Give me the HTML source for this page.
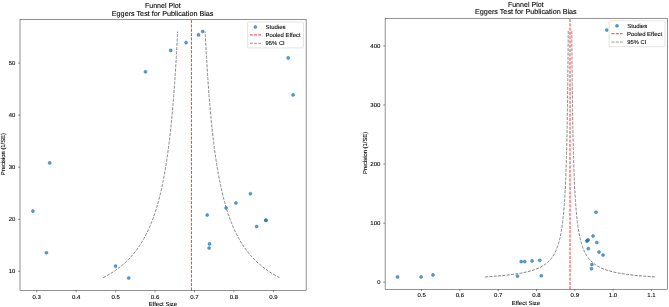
<!DOCTYPE html>
<html><head><meta charset="utf-8"><title>Funnel Plots</title>
<style>
html,body{margin:0;padding:0;background:#fff;width:669px;height:307px;overflow:hidden}
svg{display:block}
text{font-family:"Liberation Sans",sans-serif;fill:#000;stroke:#000;stroke-width:0.1px}
.t{will-change:transform}
text{text-rendering:geometricPrecision}
</style></head><body>
<svg width="669" height="307" viewBox="0 0 669 307">
<rect width="669" height="307" fill="#fff"/>
<circle cx="32.9" cy="211.1" r="1.55" fill="#1f77b4" fill-opacity="0.75" stroke="#1f77b4" stroke-opacity="0.75" stroke-width="0.54"/>
<circle cx="49.7" cy="162.9" r="1.55" fill="#1f77b4" fill-opacity="0.75" stroke="#1f77b4" stroke-opacity="0.75" stroke-width="0.54"/>
<circle cx="46.4" cy="252.7" r="1.55" fill="#1f77b4" fill-opacity="0.75" stroke="#1f77b4" stroke-opacity="0.75" stroke-width="0.54"/>
<circle cx="115.6" cy="266.1" r="1.55" fill="#1f77b4" fill-opacity="0.75" stroke="#1f77b4" stroke-opacity="0.75" stroke-width="0.54"/>
<circle cx="128.7" cy="278.0" r="1.55" fill="#1f77b4" fill-opacity="0.75" stroke="#1f77b4" stroke-opacity="0.75" stroke-width="0.54"/>
<circle cx="145.5" cy="71.8" r="1.55" fill="#1f77b4" fill-opacity="0.75" stroke="#1f77b4" stroke-opacity="0.75" stroke-width="0.54"/>
<circle cx="170.75" cy="50.4" r="1.55" fill="#1f77b4" fill-opacity="0.75" stroke="#1f77b4" stroke-opacity="0.75" stroke-width="0.54"/>
<circle cx="186.1" cy="42.6" r="1.55" fill="#1f77b4" fill-opacity="0.75" stroke="#1f77b4" stroke-opacity="0.75" stroke-width="0.54"/>
<circle cx="198.5" cy="34.9" r="1.55" fill="#1f77b4" fill-opacity="0.75" stroke="#1f77b4" stroke-opacity="0.75" stroke-width="0.54"/>
<circle cx="202.7" cy="31.5" r="1.55" fill="#1f77b4" fill-opacity="0.75" stroke="#1f77b4" stroke-opacity="0.75" stroke-width="0.54"/>
<circle cx="207.2" cy="215.0" r="1.55" fill="#1f77b4" fill-opacity="0.75" stroke="#1f77b4" stroke-opacity="0.75" stroke-width="0.54"/>
<circle cx="209.5" cy="243.9" r="1.55" fill="#1f77b4" fill-opacity="0.75" stroke="#1f77b4" stroke-opacity="0.75" stroke-width="0.54"/>
<circle cx="209.1" cy="248.0" r="1.55" fill="#1f77b4" fill-opacity="0.75" stroke="#1f77b4" stroke-opacity="0.75" stroke-width="0.54"/>
<circle cx="226.1" cy="207.9" r="1.55" fill="#1f77b4" fill-opacity="0.75" stroke="#1f77b4" stroke-opacity="0.75" stroke-width="0.54"/>
<circle cx="235.9" cy="203.0" r="1.55" fill="#1f77b4" fill-opacity="0.75" stroke="#1f77b4" stroke-opacity="0.75" stroke-width="0.54"/>
<circle cx="250.4" cy="193.7" r="1.55" fill="#1f77b4" fill-opacity="0.75" stroke="#1f77b4" stroke-opacity="0.75" stroke-width="0.54"/>
<circle cx="256.6" cy="226.5" r="1.55" fill="#1f77b4" fill-opacity="0.75" stroke="#1f77b4" stroke-opacity="0.75" stroke-width="0.54"/>
<circle cx="265.8" cy="220.2" r="1.55" fill="#1f77b4" fill-opacity="0.75" stroke="#1f77b4" stroke-opacity="0.75" stroke-width="0.54"/>
<circle cx="265.9" cy="220.3" r="1.55" fill="#1f77b4" fill-opacity="0.75" stroke="#1f77b4" stroke-opacity="0.75" stroke-width="0.54"/>
<circle cx="288.2" cy="57.9" r="1.55" fill="#1f77b4" fill-opacity="0.75" stroke="#1f77b4" stroke-opacity="0.75" stroke-width="0.54"/>
<circle cx="293.1" cy="94.9" r="1.55" fill="#1f77b4" fill-opacity="0.75" stroke="#1f77b4" stroke-opacity="0.75" stroke-width="0.54"/>
<line x1="191.4" y1="290.4" x2="191.4" y2="19.4" stroke="#ff0000" stroke-width="0.81" stroke-dasharray="3.01 1.30"/>
<polyline points="103.23,277.70 105.55,276.47 107.74,275.24 109.83,274.01 111.81,272.78 113.70,271.55 115.51,270.32 117.23,269.09 118.87,267.86 120.44,266.63 121.95,265.40 123.39,264.17 124.78,262.94 126.11,261.71 127.39,260.48 128.61,259.25 129.80,258.02 130.94,256.79 132.03,255.56 133.09,254.33 134.11,253.10 135.10,251.87 136.05,250.64 136.97,249.41 137.86,248.18 138.72,246.95 139.56,245.72 140.37,244.49 141.15,243.26 141.91,242.03 142.65,240.80 143.36,239.57 144.06,238.34 144.73,237.11 145.39,235.88 146.03,234.65 146.65,233.41 147.25,232.18 147.84,230.95 148.41,229.72 148.97,228.49 149.51,227.26 150.04,226.03 150.56,224.80 151.06,223.57 151.56,222.34 152.03,221.11 152.50,219.88 152.96,218.65 153.41,217.42 153.84,216.19 154.27,214.96 154.69,213.73 155.09,212.50 155.49,211.27 155.88,210.04 156.26,208.81 156.64,207.58 157.00,206.35 157.36,205.12 157.71,203.89 158.05,202.66 158.39,201.43 158.72,200.20 159.04,198.97 159.36,197.74 159.67,196.51 159.98,195.28 160.27,194.05 160.57,192.82 160.86,191.59 161.14,190.36 161.42,189.13 161.69,187.90 161.96,186.67 162.22,185.44 162.48,184.21 162.73,182.98 162.98,181.75 163.22,180.52 163.46,179.29 163.70,178.06 163.93,176.83 164.16,175.60 164.39,174.37 164.61,173.14 164.83,171.90 165.04,170.67 165.25,169.44 165.46,168.21 165.66,166.98 165.86,165.75 166.06,164.52 166.26,163.29 166.45,162.06 166.64,160.83 166.82,159.60 167.01,158.37 167.19,157.14 167.36,155.91 167.54,154.68 167.71,153.45 167.88,152.22 168.05,150.99 168.22,149.76 168.38,148.53 168.54,147.30 168.70,146.07 168.85,144.84 169.01,143.61 169.16,142.38 169.31,141.15 169.46,139.92 169.61,138.69 169.75,137.46 169.89,136.23 170.03,135.00 170.17,133.77 170.31,132.54 170.44,131.31 170.58,130.08 170.71,128.85 170.84,127.62 170.97,126.39 171.09,125.16 171.22,123.93 171.34,122.70 171.46,121.47 171.59,120.24 171.70,119.01 171.82,117.78 171.94,116.55 172.05,115.32 172.17,114.09 172.28,112.86 172.39,111.62 172.50,110.39 172.61,109.16 172.72,107.93 172.82,106.70 172.93,105.47 173.03,104.24 173.13,103.01 173.24,101.78 173.34,100.55 173.44,99.32 173.53,98.09 173.63,96.86 173.73,95.63 173.82,94.40 173.92,93.17 174.01,91.94 174.10,90.71 174.19,89.48 174.28,88.25 174.37,87.02 174.46,85.79 174.55,84.56 174.63,83.33 174.72,82.10 174.80,80.87 174.89,79.64 174.97,78.41 175.05,77.18 175.13,75.95 175.21,74.72 175.29,73.49 175.37,72.26 175.45,71.03 175.53,69.80 175.60,68.57 175.68,67.34 175.75,66.11 175.83,64.88 175.90,63.65 175.98,62.42 176.05,61.19 176.12,59.96 176.19,58.73 176.26,57.50 176.33,56.27 176.40,55.04 176.47,53.81 176.54,52.58 176.60,51.35 176.67,50.11 176.74,48.88 176.80,47.65 176.87,46.42 176.93,45.19 176.99,43.96 177.06,42.73 177.12,41.50 177.18,40.27 177.24,39.04 177.31,37.81 177.37,36.58 177.43,35.35 177.48,34.12 177.54,32.89 177.60,31.66" fill="none" stroke="#747474" stroke-width="0.89" stroke-dasharray="3.01 1.30"/>
<polyline points="279.57,277.70 277.25,276.47 275.06,275.24 272.97,274.01 270.99,272.78 269.10,271.55 267.29,270.32 265.57,269.09 263.93,267.86 262.36,266.63 260.85,265.40 259.41,264.17 258.02,262.94 256.69,261.71 255.41,260.48 254.19,259.25 253.00,258.02 251.86,256.79 250.77,255.56 249.71,254.33 248.69,253.10 247.70,251.87 246.75,250.64 245.83,249.41 244.94,248.18 244.08,246.95 243.24,245.72 242.43,244.49 241.65,243.26 240.89,242.03 240.15,240.80 239.44,239.57 238.74,238.34 238.07,237.11 237.41,235.88 236.77,234.65 236.15,233.41 235.55,232.18 234.96,230.95 234.39,229.72 233.83,228.49 233.29,227.26 232.76,226.03 232.24,224.80 231.74,223.57 231.24,222.34 230.77,221.11 230.30,219.88 229.84,218.65 229.39,217.42 228.96,216.19 228.53,214.96 228.11,213.73 227.71,212.50 227.31,211.27 226.92,210.04 226.54,208.81 226.16,207.58 225.80,206.35 225.44,205.12 225.09,203.89 224.75,202.66 224.41,201.43 224.08,200.20 223.76,198.97 223.44,197.74 223.13,196.51 222.82,195.28 222.53,194.05 222.23,192.82 221.94,191.59 221.66,190.36 221.38,189.13 221.11,187.90 220.84,186.67 220.58,185.44 220.32,184.21 220.07,182.98 219.82,181.75 219.58,180.52 219.34,179.29 219.10,178.06 218.87,176.83 218.64,175.60 218.41,174.37 218.19,173.14 217.97,171.90 217.76,170.67 217.55,169.44 217.34,168.21 217.14,166.98 216.94,165.75 216.74,164.52 216.54,163.29 216.35,162.06 216.16,160.83 215.98,159.60 215.79,158.37 215.61,157.14 215.44,155.91 215.26,154.68 215.09,153.45 214.92,152.22 214.75,150.99 214.58,149.76 214.42,148.53 214.26,147.30 214.10,146.07 213.95,144.84 213.79,143.61 213.64,142.38 213.49,141.15 213.34,139.92 213.19,138.69 213.05,137.46 212.91,136.23 212.77,135.00 212.63,133.77 212.49,132.54 212.36,131.31 212.22,130.08 212.09,128.85 211.96,127.62 211.83,126.39 211.71,125.16 211.58,123.93 211.46,122.70 211.34,121.47 211.21,120.24 211.10,119.01 210.98,117.78 210.86,116.55 210.75,115.32 210.63,114.09 210.52,112.86 210.41,111.62 210.30,110.39 210.19,109.16 210.08,107.93 209.98,106.70 209.87,105.47 209.77,104.24 209.67,103.01 209.56,101.78 209.46,100.55 209.36,99.32 209.27,98.09 209.17,96.86 209.07,95.63 208.98,94.40 208.88,93.17 208.79,91.94 208.70,90.71 208.61,89.48 208.52,88.25 208.43,87.02 208.34,85.79 208.25,84.56 208.17,83.33 208.08,82.10 208.00,80.87 207.91,79.64 207.83,78.41 207.75,77.18 207.67,75.95 207.59,74.72 207.51,73.49 207.43,72.26 207.35,71.03 207.27,69.80 207.20,68.57 207.12,67.34 207.05,66.11 206.97,64.88 206.90,63.65 206.82,62.42 206.75,61.19 206.68,59.96 206.61,58.73 206.54,57.50 206.47,56.27 206.40,55.04 206.33,53.81 206.26,52.58 206.20,51.35 206.13,50.11 206.06,48.88 206.00,47.65 205.93,46.42 205.87,45.19 205.81,43.96 205.74,42.73 205.68,41.50 205.62,40.27 205.56,39.04 205.49,37.81 205.43,36.58 205.37,35.35 205.32,34.12 205.26,32.89 205.20,31.66" fill="none" stroke="#747474" stroke-width="0.89" stroke-dasharray="3.01 1.30"/>
<rect x="20.0" y="19.4" width="286.10" height="271.00" fill="none" stroke="#000" stroke-width="0.43"/>
<line x1="36.70" y1="290.4" x2="36.70" y2="292.30" stroke="#000" stroke-width="0.43"/>
<line x1="76.15" y1="290.4" x2="76.15" y2="292.30" stroke="#000" stroke-width="0.43"/>
<line x1="115.60" y1="290.4" x2="115.60" y2="292.30" stroke="#000" stroke-width="0.43"/>
<line x1="155.05" y1="290.4" x2="155.05" y2="292.30" stroke="#000" stroke-width="0.43"/>
<line x1="194.50" y1="290.4" x2="194.50" y2="292.30" stroke="#000" stroke-width="0.43"/>
<line x1="233.95" y1="290.4" x2="233.95" y2="292.30" stroke="#000" stroke-width="0.43"/>
<line x1="273.40" y1="290.4" x2="273.40" y2="292.30" stroke="#000" stroke-width="0.43"/>
<line x1="18.10" y1="271.30" x2="20.0" y2="271.30" stroke="#000" stroke-width="0.43"/>
<line x1="18.10" y1="219.25" x2="20.0" y2="219.25" stroke="#000" stroke-width="0.43"/>
<line x1="18.10" y1="167.20" x2="20.0" y2="167.20" stroke="#000" stroke-width="0.43"/>
<line x1="18.10" y1="115.15" x2="20.0" y2="115.15" stroke="#000" stroke-width="0.43"/>
<line x1="18.10" y1="63.10" x2="20.0" y2="63.10" stroke="#000" stroke-width="0.43"/>
<rect x="247.4" y="22.0" width="56.0" height="25.9" rx="1.1" fill="#fff" fill-opacity="0.8" stroke="#cccccc" stroke-width="0.54"/>
<circle cx="255.40" cy="27.00" r="1.55" fill="#1f77b4" fill-opacity="0.75" stroke="#1f77b4" stroke-opacity="0.75" stroke-width="0.54"/>
<line x1="249.80" y1="34.90" x2="261.00" y2="34.90" stroke="#ff0000" stroke-width="0.81" stroke-dasharray="3.01 1.30"/>
<line x1="249.80" y1="43.30" x2="261.00" y2="43.30" stroke="#808080" stroke-width="0.81" stroke-dasharray="3.01 1.30"/>
<circle cx="397.5" cy="276.9" r="1.55" fill="#1f77b4" fill-opacity="0.75" stroke="#1f77b4" stroke-opacity="0.75" stroke-width="0.54"/>
<circle cx="421.1" cy="276.9" r="1.55" fill="#1f77b4" fill-opacity="0.75" stroke="#1f77b4" stroke-opacity="0.75" stroke-width="0.54"/>
<circle cx="433.0" cy="274.9" r="1.55" fill="#1f77b4" fill-opacity="0.75" stroke="#1f77b4" stroke-opacity="0.75" stroke-width="0.54"/>
<circle cx="517.5" cy="276.1" r="1.55" fill="#1f77b4" fill-opacity="0.75" stroke="#1f77b4" stroke-opacity="0.75" stroke-width="0.54"/>
<circle cx="521.2" cy="261.6" r="1.55" fill="#1f77b4" fill-opacity="0.75" stroke="#1f77b4" stroke-opacity="0.75" stroke-width="0.54"/>
<circle cx="524.7" cy="261.6" r="1.55" fill="#1f77b4" fill-opacity="0.75" stroke="#1f77b4" stroke-opacity="0.75" stroke-width="0.54"/>
<circle cx="532.1" cy="260.9" r="1.55" fill="#1f77b4" fill-opacity="0.75" stroke="#1f77b4" stroke-opacity="0.75" stroke-width="0.54"/>
<circle cx="539.8" cy="260.3" r="1.55" fill="#1f77b4" fill-opacity="0.75" stroke="#1f77b4" stroke-opacity="0.75" stroke-width="0.54"/>
<circle cx="541.3" cy="275.7" r="1.55" fill="#1f77b4" fill-opacity="0.75" stroke="#1f77b4" stroke-opacity="0.75" stroke-width="0.54"/>
<circle cx="596.0" cy="212.3" r="1.55" fill="#1f77b4" fill-opacity="0.75" stroke="#1f77b4" stroke-opacity="0.75" stroke-width="0.54"/>
<circle cx="593.1" cy="236.0" r="1.55" fill="#1f77b4" fill-opacity="0.75" stroke="#1f77b4" stroke-opacity="0.75" stroke-width="0.54"/>
<circle cx="586.8" cy="241.1" r="1.55" fill="#1f77b4" fill-opacity="0.75" stroke="#1f77b4" stroke-opacity="0.75" stroke-width="0.54"/>
<circle cx="588.1" cy="239.9" r="1.55" fill="#1f77b4" fill-opacity="0.75" stroke="#1f77b4" stroke-opacity="0.75" stroke-width="0.54"/>
<circle cx="587.4" cy="240.5" r="1.55" fill="#1f77b4" fill-opacity="0.75" stroke="#1f77b4" stroke-opacity="0.75" stroke-width="0.54"/>
<circle cx="596.8" cy="242.5" r="1.55" fill="#1f77b4" fill-opacity="0.75" stroke="#1f77b4" stroke-opacity="0.75" stroke-width="0.54"/>
<circle cx="588.3" cy="248.6" r="1.55" fill="#1f77b4" fill-opacity="0.75" stroke="#1f77b4" stroke-opacity="0.75" stroke-width="0.54"/>
<circle cx="599.0" cy="252.1" r="1.55" fill="#1f77b4" fill-opacity="0.75" stroke="#1f77b4" stroke-opacity="0.75" stroke-width="0.54"/>
<circle cx="603.0" cy="255.0" r="1.55" fill="#1f77b4" fill-opacity="0.75" stroke="#1f77b4" stroke-opacity="0.75" stroke-width="0.54"/>
<circle cx="591.9" cy="264.5" r="1.55" fill="#1f77b4" fill-opacity="0.75" stroke="#1f77b4" stroke-opacity="0.75" stroke-width="0.54"/>
<circle cx="591.5" cy="268.7" r="1.55" fill="#1f77b4" fill-opacity="0.75" stroke="#1f77b4" stroke-opacity="0.75" stroke-width="0.54"/>
<circle cx="606.75" cy="30.05" r="1.55" fill="#1f77b4" fill-opacity="0.75" stroke="#1f77b4" stroke-opacity="0.75" stroke-width="0.54"/>
<line x1="570.0" y1="289.2" x2="570.0" y2="18.2" stroke="#ff0000" stroke-width="0.81" stroke-dasharray="3.01 1.30"/>
<polyline points="485.18,276.97 501.37,275.74 512.37,274.50 520.33,273.27 526.36,272.04 531.09,270.80 534.89,269.57 538.01,268.34 540.63,267.10 542.84,265.87 544.75,264.64 546.41,263.40 547.86,262.17 549.15,260.93 550.29,259.70 551.31,258.47 552.24,257.23 553.07,256.00 553.83,254.77 554.53,253.53 555.17,252.30 555.76,251.07 556.30,249.83 556.80,248.60 557.27,247.36 557.71,246.13 558.11,244.90 558.49,243.66 558.85,242.43 559.18,241.20 559.50,239.96 559.80,238.73 560.08,237.50 560.35,236.26 560.60,235.03 560.84,233.79 561.07,232.56 561.28,231.33 561.49,230.09 561.69,228.86 561.87,227.63 562.05,226.39 562.23,225.16 562.39,223.93 562.55,222.69 562.70,221.46 562.84,220.22 562.98,218.99 563.12,217.76 563.25,216.52 563.37,215.29 563.49,214.06 563.61,212.82 563.72,211.59 563.83,210.36 563.93,209.12 564.03,207.89 564.13,206.65 564.22,205.42 564.32,204.19 564.40,202.95 564.49,201.72 564.57,200.49 564.65,199.25 564.73,198.02 564.81,196.79 564.88,195.55 564.95,194.32 565.02,193.08 565.09,191.85 565.16,190.62 565.22,189.38 565.28,188.15 565.35,186.92 565.41,185.68 565.46,184.45 565.52,183.22 565.58,181.98 565.63,180.75 565.68,179.51 565.73,178.28 565.78,177.05 565.83,175.81 565.88,174.58 565.93,173.35 565.97,172.11 566.02,170.88 566.06,169.65 566.10,168.41 566.14,167.18 566.19,165.94 566.23,164.71 566.26,163.48 566.30,162.24 566.34,161.01 566.38,159.78 566.41,158.54 566.45,157.31 566.48,156.08 566.52,154.84 566.55,153.61 566.58,152.37 566.62,151.14 566.65,149.91 566.68,148.67 566.71,147.44 566.74,146.21 566.77,144.97 566.80,143.74 566.83,142.51 566.85,141.27 566.88,140.04 566.91,138.80 566.93,137.57 566.96,136.34 566.99,135.10 567.01,133.87 567.03,132.64 567.06,131.40 567.08,130.17 567.11,128.94 567.13,127.70 567.15,126.47 567.17,125.23 567.20,124.00 567.22,122.77 567.24,121.53 567.26,120.30 567.28,119.07 567.30,117.83 567.32,116.60 567.34,115.37 567.36,114.13 567.38,112.90 567.40,111.66 567.42,110.43 567.44,109.20 567.45,107.96 567.47,106.73 567.49,105.50 567.51,104.26 567.52,103.03 567.54,101.80 567.56,100.56 567.57,99.33 567.59,98.09 567.61,96.86 567.62,95.63 567.64,94.39 567.65,93.16 567.67,91.93 567.68,90.69 567.70,89.46 567.71,88.23 567.73,86.99 567.74,85.76 567.76,84.53 567.77,83.29 567.78,82.06 567.80,80.82 567.81,79.59 567.82,78.36 567.84,77.12 567.85,75.89 567.86,74.66 567.88,73.42 567.89,72.19 567.90,70.96 567.91,69.72 567.92,68.49 567.94,67.25 567.95,66.02 567.96,64.79 567.97,63.55 567.98,62.32 567.99,61.09 568.01,59.85 568.02,58.62 568.03,57.39 568.04,56.15 568.05,54.92 568.06,53.68 568.07,52.45 568.08,51.22 568.09,49.98 568.10,48.75 568.11,47.52 568.12,46.28 568.13,45.05 568.14,43.82 568.15,42.58 568.16,41.35 568.17,40.11 568.18,38.88 568.19,37.65 568.20,36.41 568.20,35.18 568.21,33.95 568.22,32.71 568.23,31.48 568.24,30.25" fill="none" stroke="#747474" stroke-width="0.89" stroke-dasharray="3.01 1.30"/>
<polyline points="654.82,276.97 638.63,275.74 627.63,274.50 619.67,273.27 613.64,272.04 608.91,270.80 605.11,269.57 601.99,268.34 599.37,267.10 597.16,265.87 595.25,264.64 593.59,263.40 592.14,262.17 590.85,260.93 589.71,259.70 588.69,258.47 587.76,257.23 586.93,256.00 586.17,254.77 585.47,253.53 584.83,252.30 584.24,251.07 583.70,249.83 583.20,248.60 582.73,247.36 582.29,246.13 581.89,244.90 581.51,243.66 581.15,242.43 580.82,241.20 580.50,239.96 580.20,238.73 579.92,237.50 579.65,236.26 579.40,235.03 579.16,233.79 578.93,232.56 578.72,231.33 578.51,230.09 578.31,228.86 578.13,227.63 577.95,226.39 577.77,225.16 577.61,223.93 577.45,222.69 577.30,221.46 577.16,220.22 577.02,218.99 576.88,217.76 576.75,216.52 576.63,215.29 576.51,214.06 576.39,212.82 576.28,211.59 576.17,210.36 576.07,209.12 575.97,207.89 575.87,206.65 575.78,205.42 575.68,204.19 575.60,202.95 575.51,201.72 575.43,200.49 575.35,199.25 575.27,198.02 575.19,196.79 575.12,195.55 575.05,194.32 574.98,193.08 574.91,191.85 574.84,190.62 574.78,189.38 574.72,188.15 574.65,186.92 574.59,185.68 574.54,184.45 574.48,183.22 574.42,181.98 574.37,180.75 574.32,179.51 574.27,178.28 574.22,177.05 574.17,175.81 574.12,174.58 574.07,173.35 574.03,172.11 573.98,170.88 573.94,169.65 573.90,168.41 573.86,167.18 573.81,165.94 573.77,164.71 573.74,163.48 573.70,162.24 573.66,161.01 573.62,159.78 573.59,158.54 573.55,157.31 573.52,156.08 573.48,154.84 573.45,153.61 573.42,152.37 573.38,151.14 573.35,149.91 573.32,148.67 573.29,147.44 573.26,146.21 573.23,144.97 573.20,143.74 573.17,142.51 573.15,141.27 573.12,140.04 573.09,138.80 573.07,137.57 573.04,136.34 573.01,135.10 572.99,133.87 572.97,132.64 572.94,131.40 572.92,130.17 572.89,128.94 572.87,127.70 572.85,126.47 572.83,125.23 572.80,124.00 572.78,122.77 572.76,121.53 572.74,120.30 572.72,119.07 572.70,117.83 572.68,116.60 572.66,115.37 572.64,114.13 572.62,112.90 572.60,111.66 572.58,110.43 572.56,109.20 572.55,107.96 572.53,106.73 572.51,105.50 572.49,104.26 572.48,103.03 572.46,101.80 572.44,100.56 572.43,99.33 572.41,98.09 572.39,96.86 572.38,95.63 572.36,94.39 572.35,93.16 572.33,91.93 572.32,90.69 572.30,89.46 572.29,88.23 572.27,86.99 572.26,85.76 572.24,84.53 572.23,83.29 572.22,82.06 572.20,80.82 572.19,79.59 572.18,78.36 572.16,77.12 572.15,75.89 572.14,74.66 572.12,73.42 572.11,72.19 572.10,70.96 572.09,69.72 572.08,68.49 572.06,67.25 572.05,66.02 572.04,64.79 572.03,63.55 572.02,62.32 572.01,61.09 571.99,59.85 571.98,58.62 571.97,57.39 571.96,56.15 571.95,54.92 571.94,53.68 571.93,52.45 571.92,51.22 571.91,49.98 571.90,48.75 571.89,47.52 571.88,46.28 571.87,45.05 571.86,43.82 571.85,42.58 571.84,41.35 571.83,40.11 571.82,38.88 571.81,37.65 571.80,36.41 571.80,35.18 571.79,33.95 571.78,32.71 571.77,31.48 571.76,30.25" fill="none" stroke="#747474" stroke-width="0.89" stroke-dasharray="3.01 1.30"/>
<rect x="385.1" y="18.2" width="282.40" height="271.00" fill="none" stroke="#000" stroke-width="0.43"/>
<line x1="421.60" y1="289.2" x2="421.60" y2="291.10" stroke="#000" stroke-width="0.43"/>
<line x1="459.90" y1="289.2" x2="459.90" y2="291.10" stroke="#000" stroke-width="0.43"/>
<line x1="498.20" y1="289.2" x2="498.20" y2="291.10" stroke="#000" stroke-width="0.43"/>
<line x1="536.50" y1="289.2" x2="536.50" y2="291.10" stroke="#000" stroke-width="0.43"/>
<line x1="574.80" y1="289.2" x2="574.80" y2="291.10" stroke="#000" stroke-width="0.43"/>
<line x1="613.10" y1="289.2" x2="613.10" y2="291.10" stroke="#000" stroke-width="0.43"/>
<line x1="651.40" y1="289.2" x2="651.40" y2="291.10" stroke="#000" stroke-width="0.43"/>
<line x1="383.20" y1="282.20" x2="385.1" y2="282.20" stroke="#000" stroke-width="0.43"/>
<line x1="383.20" y1="223.12" x2="385.1" y2="223.12" stroke="#000" stroke-width="0.43"/>
<line x1="383.20" y1="164.05" x2="385.1" y2="164.05" stroke="#000" stroke-width="0.43"/>
<line x1="383.20" y1="104.97" x2="385.1" y2="104.97" stroke="#000" stroke-width="0.43"/>
<line x1="383.20" y1="45.90" x2="385.1" y2="45.90" stroke="#000" stroke-width="0.43"/>
<rect x="609.0" y="20.8" width="56.0" height="25.9" rx="1.1" fill="#fff" fill-opacity="0.8" stroke="#cccccc" stroke-width="0.54"/>
<circle cx="617.00" cy="25.80" r="1.55" fill="#1f77b4" fill-opacity="0.75" stroke="#1f77b4" stroke-opacity="0.75" stroke-width="0.54"/>
<line x1="611.40" y1="33.70" x2="622.60" y2="33.70" stroke="#ff0000" stroke-width="0.81" stroke-dasharray="3.01 1.30"/>
<line x1="611.40" y1="42.10" x2="622.60" y2="42.10" stroke="#808080" stroke-width="0.81" stroke-dasharray="3.01 1.30"/>
<g class="t">
<text x="32.54" y="298.50" font-size="5.8" textLength="8.31" lengthAdjust="spacingAndGlyphs">0.3</text>
<text x="71.92" y="298.50" font-size="5.8" textLength="8.39" lengthAdjust="spacingAndGlyphs">0.4</text>
<text x="111.46" y="298.50" font-size="5.8" textLength="8.28" lengthAdjust="spacingAndGlyphs">0.5</text>
<text x="150.84" y="298.50" font-size="5.8" textLength="8.43" lengthAdjust="spacingAndGlyphs">0.6</text>
<text x="190.36" y="298.50" font-size="5.8" textLength="8.35" lengthAdjust="spacingAndGlyphs">0.7</text>
<text x="229.75" y="298.50" font-size="5.8" textLength="8.40" lengthAdjust="spacingAndGlyphs">0.8</text>
<text x="269.22" y="298.50" font-size="5.8" textLength="8.40" lengthAdjust="spacingAndGlyphs">0.9</text>
<text x="8.82" y="273.30" font-size="5.8" textLength="6.60" lengthAdjust="spacingAndGlyphs">10</text>
<text x="8.78" y="221.25" font-size="5.8" textLength="6.65" lengthAdjust="spacingAndGlyphs">20</text>
<text x="8.84" y="169.20" font-size="5.8" textLength="6.58" lengthAdjust="spacingAndGlyphs">30</text>
<text x="8.82" y="117.15" font-size="5.8" textLength="6.60" lengthAdjust="spacingAndGlyphs">40</text>
<text x="8.84" y="65.10" font-size="5.8" textLength="6.58" lengthAdjust="spacingAndGlyphs">50</text>
<text x="148.65" y="305.80" font-size="5.8" textLength="28.40" lengthAdjust="spacingAndGlyphs">Effect Size</text>
<text transform="translate(5.00,154.10) rotate(-90)" x="-21.10" y="0" font-size="5.8" textLength="42.12" lengthAdjust="spacingAndGlyphs">Precision (1/SE)</text>
<text x="144.94" y="7.70" font-size="7.2" textLength="35.72" lengthAdjust="spacingAndGlyphs">Funnel Plot</text>
<text x="111.80" y="15.50" font-size="7.2" textLength="101.68" lengthAdjust="spacingAndGlyphs">Eggers Test for Publication Bias</text>
<text x="265.63" y="29.00" font-size="5.8" textLength="19.99" lengthAdjust="spacingAndGlyphs">Studies</text>
<text x="265.43" y="36.90" font-size="5.8" textLength="35.17" lengthAdjust="spacingAndGlyphs">Pooled Effect</text>
<text x="265.64" y="45.30" font-size="5.8" textLength="19.08" lengthAdjust="spacingAndGlyphs">95% CI</text>
<text x="417.46" y="297.00" font-size="5.8" textLength="8.28" lengthAdjust="spacingAndGlyphs">0.5</text>
<text x="455.69" y="297.00" font-size="5.8" textLength="8.43" lengthAdjust="spacingAndGlyphs">0.6</text>
<text x="494.06" y="297.00" font-size="5.8" textLength="8.35" lengthAdjust="spacingAndGlyphs">0.7</text>
<text x="532.30" y="297.00" font-size="5.8" textLength="8.40" lengthAdjust="spacingAndGlyphs">0.8</text>
<text x="570.62" y="297.00" font-size="5.8" textLength="8.40" lengthAdjust="spacingAndGlyphs">0.9</text>
<text x="608.82" y="297.00" font-size="5.8" textLength="8.33" lengthAdjust="spacingAndGlyphs">1.0</text>
<text x="647.19" y="297.00" font-size="5.8" textLength="8.25" lengthAdjust="spacingAndGlyphs">1.1</text>
<text x="377.23" y="284.20" font-size="5.8" textLength="3.17" lengthAdjust="spacingAndGlyphs">0</text>
<text x="370.34" y="225.12" font-size="5.8" textLength="10.09" lengthAdjust="spacingAndGlyphs">100</text>
<text x="370.30" y="166.05" font-size="5.8" textLength="10.13" lengthAdjust="spacingAndGlyphs">200</text>
<text x="370.37" y="106.97" font-size="5.8" textLength="10.07" lengthAdjust="spacingAndGlyphs">300</text>
<text x="370.35" y="47.90" font-size="5.8" textLength="10.08" lengthAdjust="spacingAndGlyphs">400</text>
<text x="511.70" y="304.70" font-size="5.8" textLength="28.40" lengthAdjust="spacingAndGlyphs">Effect Size</text>
<text transform="translate(366.80,152.90) rotate(-90)" x="-21.10" y="0" font-size="5.8" textLength="42.12" lengthAdjust="spacingAndGlyphs">Precision (1/SE)</text>
<text x="507.89" y="6.50" font-size="7.2" textLength="35.72" lengthAdjust="spacingAndGlyphs">Funnel Plot</text>
<text x="475.05" y="14.30" font-size="7.2" textLength="101.68" lengthAdjust="spacingAndGlyphs">Eggers Test for Publication Bias</text>
<text x="627.23" y="27.80" font-size="5.8" textLength="19.99" lengthAdjust="spacingAndGlyphs">Studies</text>
<text x="627.03" y="35.70" font-size="5.8" textLength="35.17" lengthAdjust="spacingAndGlyphs">Pooled Effect</text>
<text x="627.24" y="44.10" font-size="5.8" textLength="19.08" lengthAdjust="spacingAndGlyphs">95% CI</text>
</g>
</svg>
</body></html>
